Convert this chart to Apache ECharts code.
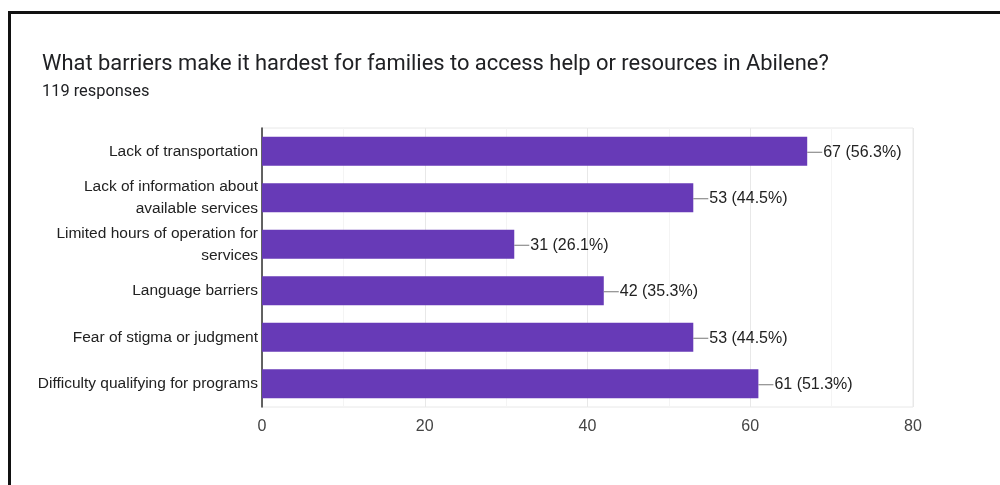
<!DOCTYPE html>
<html>
<head>
<meta charset="utf-8">
<script src="https://cdn.jsdelivr.net/npm/echarts@6/dist/echarts.min.js"></script>
<style>
  html, body { margin: 0; padding: 0; background: #fff; }
  #frame {
    position: absolute; left: 8px; top: 11px; width: 992px; height: 474px;
    border-left: 3px solid #111; border-top: 3px solid #111; box-sizing: border-box;
  }
  #chart { position: absolute; left: 0; top: 0; width: 1000px; height: 485px; }
</style>
</head>
<body>
<div id="frame"></div>
<div id="chart"></div>
<script>
// Survey question and response count
const questionTitle = 'What barriers make it hardest for families to access help or resources in Abilene?';
const totalResponses = 119;

// Answer options (top to bottom) and number of respondents choosing each
const categories = [
  'Lack of transportation',
  'Lack of information about\navailable services',
  'Limited hours of operation for\nservices',
  'Language barriers',
  'Fear of stigma or judgment',
  'Difficulty qualifying for programs'
];
const counts = [67, 53, 31, 42, 53, 61];

// Value axis ticks
const xTicks = [0, 20, 40, 60, 80];

const sans = '"Liberation Sans", Arial, sans-serif';

const chart = echarts.init(document.getElementById('chart'), null, { renderer: 'canvas' });

chart.setOption({
  animation: false,
  backgroundColor: 'transparent',
  title: [
    {
      text: questionTitle,
      left: 37, top: 49,
      textStyle: { fontFamily: 'Roboto', fontSize: 21.9, fontWeight: 'normal', color: '#202124' }
    },
    {
      text: totalResponses + ' responses',
      left: 37, top: 79,
      textStyle: { fontFamily: 'Roboto', fontSize: 16.4, fontWeight: 'normal', color: '#202124' }
    }
  ],
  grid: {
    left: 262, right: 87, top: 128, bottom: 78,
    show: true, borderColor: '#e8e8e8', borderWidth: 1
  },
  xAxis: {
    type: 'value',
    min: xTicks[0],
    max: xTicks[xTicks.length - 1],
    interval: 20,
    axisLine: { show: false },
    axisTick: { show: false },
    axisLabel: {
      fontFamily: sans, fontSize: 16, color: '#444', margin: 12
    },
    splitLine: { show: true, lineStyle: { color: '#e8e8e8', width: 1 } },
    minorTick: { show: false, splitNumber: 2 },
    minorSplitLine: { show: true, lineStyle: { color: '#f4f4f4', width: 1 } }
  },
  yAxis: {
    type: 'category',
    data: categories,
    inverse: true,
    axisLine: { show: true, lineStyle: { color: '#333', width: 1.5 } },
    axisTick: { show: false },
    axisLabel: {
      fontFamily: sans, fontSize: 15.5, color: '#222',
      lineHeight: 22, margin: 4, align: 'right', padding: [4, 0, 0, 0]
    },
    splitLine: { show: false }
  },
  series: [{
    type: 'bar',
    data: counts,
    barWidth: 29,
    itemStyle: { color: '#673ab7' },
    label: {
      show: true,
      position: 'right',
      distance: 0,
      offset: [0, 1],
      formatter: function (p) {
        const pct = (p.value / totalResponses * 100).toFixed(1);
        return '{lead|}{txt|' + p.value + ' (' + pct + '%)}';
      },
      rich: {
        lead: { width: 15, height: 1, backgroundColor: '#777' },
        txt: { fontFamily: sans, fontSize: 16, color: '#222', padding: [0, 0, 0, 1] }
      }
    }
  }]
});
</script>
</body>
</html>
